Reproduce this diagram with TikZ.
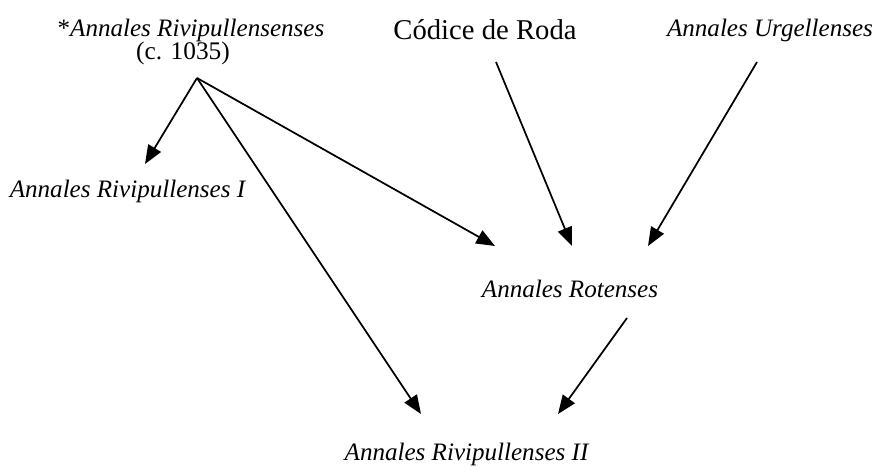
\documentclass[tikz,border=0pt]{standalone}
\usepackage{fontspec}
\setmainfont{Liberation Serif}
\usetikzlibrary{arrows.meta}
\begin{document}
\begin{tikzpicture}[x=0.75pt,y=-0.75pt,
  lbl/.style={inner sep=0pt,font=\fontsize{18.8}{22}\selectfont,align=center},
  rom/.style={inner sep=0pt,font=\fontsize{#1}{22}\selectfont,align=center},
  arr/.style={-{Triangle[length=14pt,width=11pt]},line width=1.3pt}]
\useasboundingbox (0,0) rectangle (874,469);
\node[lbl] (src) at (191,30) {*\textit{Annales Rivipullensenses}};
\node[rom=19] (date) at (183,53) {(c. 1035)};
\node[rom=21.5] (roda) at (485,30) {Códice de Roda};
\node[lbl] (urg) at (770,30) {\textit{Annales Urgellenses}};
\node[lbl] (rip1) at (128,191) {\textit{Annales Rivipullenses I}};
\node[lbl] (rot) at (570,289) {\textit{Annales Rotenses}};
\node[lbl] (rip2) at (467,454) {\textit{Annales Rivipullenses II}};
\coordinate (apex) at (197,78);
\coordinate (rip1in) at (145,164);
\coordinate (rotinA) at (495,246);
\coordinate (rotinB) at (572,246);
\coordinate (rotinC) at (648,246);
\coordinate (rip2inA) at (421,414);
\coordinate (rip2inB) at (558,414);
\coordinate (rodaout) at (496,62);
\coordinate (urgout) at (757,62);
\coordinate (rotout) at (627,318);
\draw[arr] (apex) -- (rip1in);
\draw[arr] (apex) -- (rotinA);
\draw[arr] (apex) -- (rip2inA);
\draw[arr] (rodaout) -- (rotinB);
\draw[arr] (urgout) -- (rotinC);
\draw[arr] (rotout) -- (rip2inB);
\end{tikzpicture}
\end{document}
